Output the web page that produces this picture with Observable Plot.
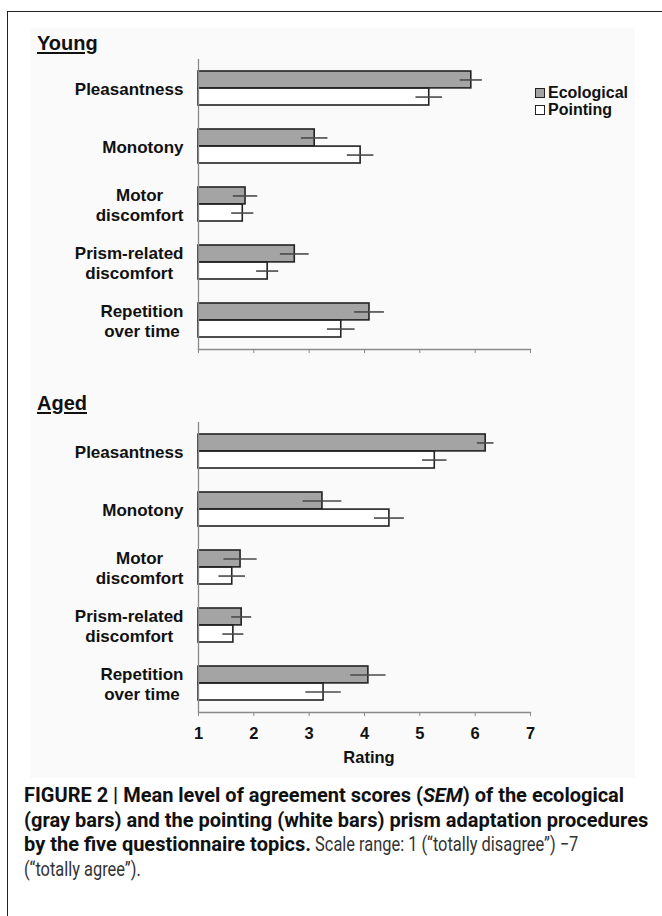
<!DOCTYPE html>
<html>
<head>
<meta charset="utf-8">
<script src="https://cdn.jsdelivr.net/npm/d3@7"></script>
<script src="https://cdn.jsdelivr.net/npm/@observablehq/plot@0.6"></script>
<style>
  html, body { margin: 0; padding: 0; background: #fff; }
  body { width: 662px; height: 916px; overflow: hidden; position: relative; font-family: "Liberation Sans", Arial, sans-serif; color: #111; }
  #frame { position: absolute; left: 7px; top: 11px; width: 720px; height: 1000px; border: 1.5px solid #222; box-sizing: border-box; }
  #panelbg { position: absolute; left: 30px; top: 28px; width: 605px; height: 750px; background: #fafafa; }
  .title { position: absolute; left: 37px; font-weight: bold; font-size: 20px; line-height: 1; text-decoration: underline; text-decoration-thickness: 2px; text-underline-offset: 2px; color: #111; }
  .chart { position: absolute; left: 0; }
  .chart svg { overflow: visible; }
  #legend { position: absolute; left: 535px; top: 84px; font-weight: bold; font-size: 16px; line-height: 17px; }
  #legend div { white-space: nowrap; }
  .sw { display: inline-block; width: 8px; height: 8px; border: 1.4px solid #222; margin-right: 3px; vertical-align: 0px; }
  #rating { position: absolute; left: 319px; width: 100px; text-align: center; top: 749px; font-weight: bold; font-size: 16.5px; line-height: 1; }
  #caption { position: absolute; left: 24px; top: 783px; font-family: Roboto, "Liberation Sans", sans-serif; font-size: 20px; line-height: 24.5px; white-space: nowrap; color: #111; }
  #caption b { font-weight: bold; }
  #caption .reg { font-weight: normal; color: #333; display: inline-block; transform: scaleX(0.82); transform-origin: left center; }
</style>
</head>
<body>
<div id="frame"></div>
<div id="panelbg"></div>
<div class="title" id="t1" style="top:33px"></div>
<div class="title" id="t2" style="top:393px"></div>
<div class="chart" id="c1" style="top:50px"></div>
<div class="chart" id="c2" style="top:413px"></div>
<div id="legend"></div>
<div id="rating">Rating</div>
<div id="caption"></div>
<script>
// ---------- data ----------
const topics = ["Pleasantness", "Monotony", "Motor\ndiscomfort", "Prism-related\ndiscomfort", "Repetition\nover time"];
const seriesNames = ["Ecological", "Pointing"];
const xTicks = [1, 2, 3, 4, 5, 6, 7];

const youngEco      = [5.93, 3.10, 1.85, 2.74, 4.09];
const youngEcoSem   = [0.20, 0.24, 0.22, 0.26, 0.27];
const youngPoint    = [5.17, 3.93, 1.80, 2.25, 3.58];
const youngPointSem = [0.24, 0.24, 0.20, 0.20, 0.25];

const agedEco       = [6.19, 3.24, 1.76, 1.78, 4.07];
const agedEcoSem    = [0.15, 0.35, 0.30, 0.18, 0.32];
const agedPoint     = [5.27, 4.45, 1.61, 1.63, 3.26];
const agedPointSem  = [0.22, 0.27, 0.24, 0.19, 0.32];

const panelTitles = ["Young", "Aged"];
const captionBold1 = "FIGURE 2 | Mean level of agreement scores (";
const captionItalic = "SEM";
const captionBold2 = ") of the ecological";
const captionBold3 = "(gray bars) and the pointing (white bars) prism adaptation procedures";
const captionBold4 = "by the five questionnaire topics.";
const captionReg1 = "\u00A0Scale range: 1 (\u201Ctotally disagree\u201D) \u22127";
const captionReg2 = "(\u201Ctotally agree\u201D).";

// ---------- styles ----------
const GRAY = "#a4a4a4";
const EDGE = "#222";
const ERR = "#4a4a4a";
const AXIS = "#8a8a8a";

function panel(eco, ecoSem, point, pointSem, showLabels) {
  const rows = topics.map((t, i) => ({topic: t, eco: eco[i], ecoSem: ecoSem[i], point: point[i], pointSem: pointSem[i]}));
  const pad = 0.41;
  const bandRange = 290;
  const step = bandRange / topics.length;
  const bw = step * (1 - pad);
  const marginBottom = showLabels ? 60 : 10;
  return Plot.plot({
    width: 662,
    height: 9 + bandRange + marginBottom,
    marginLeft: 198, marginRight: 132, marginTop: 9, marginBottom,
    style: {background: "transparent", fontFamily: "'Liberation Sans', Arial, sans-serif", color: "#111", overflow: "visible"},
    x: {domain: [1, 7]},
    y: {domain: topics, paddingInner: pad, paddingOuter: pad / 2, label: null},
    marks: [
      Plot.barX(rows, {y: "topic", x1: 1, x2: "eco", fill: GRAY, stroke: EDGE, strokeWidth: 1.6, insetBottom: bw / 2}),
      Plot.barX(rows, {y: "topic", x1: 1, x2: "point", fill: "#fff", stroke: EDGE, strokeWidth: 1.6, insetTop: bw / 2}),
      Plot.ruleY(rows, {y: "topic", x1: d => d.eco - d.ecoSem, x2: d => d.eco + d.ecoSem, dy: -bw / 4, stroke: ERR, strokeWidth: 1.6}),
      Plot.ruleY(rows, {y: "topic", x1: d => d.point - d.pointSem, x2: d => d.point + d.pointSem, dy: bw / 4, stroke: ERR, strokeWidth: 1.6}),
      Plot.ruleX([1], {stroke: AXIS, strokeWidth: 1.3}),
      Plot.frame({anchor: "bottom", stroke: AXIS, strokeWidth: 1.3}),
      Plot.axisY({tickSize: 0, tickPadding: 15, fontSize: 17, fontWeight: "bold", label: null, lineHeight: 1.18}),
      Plot.axisX({ticks: xTicks, tickSize: 4, stroke: AXIS, tickPadding: 11, fontSize: 16.5, fontWeight: "bold", label: null,
                  tickFormat: showLabels ? d3.format("d") : () => ""})
    ]
  });
}

function centerMultiline(svg) {
  svg.querySelectorAll('g[aria-label="y-axis tick label"] text').forEach(t => {
    const spans = t.querySelectorAll("tspan");
    if (spans.length < 2) return;
    const w = Math.max(...[...spans].map(s => s.getComputedTextLength()));
    t.setAttribute("text-anchor", "middle");
    spans.forEach(s => s.setAttribute("x", -w / 2));
  });
}

const s1 = panel(youngEco, youngEcoSem, youngPoint, youngPointSem, false);
const s2 = panel(agedEco, agedEcoSem, agedPoint, agedPointSem, true);
document.getElementById("c1").appendChild(s1);
document.getElementById("c2").appendChild(s2);
centerMultiline(s1);
centerMultiline(s2);

document.getElementById("t1").textContent = panelTitles[0];
document.getElementById("t2").textContent = panelTitles[1];

// legend
const lg = document.getElementById("legend");
const swFill = [GRAY, "#fff"];
seriesNames.forEach((n, i) => {
  const row = document.createElement("div");
  const sw = document.createElement("span");
  sw.className = "sw";
  sw.style.background = swFill[i];
  row.appendChild(sw);
  row.appendChild(document.createTextNode(n));
  lg.appendChild(row);
});

// caption
const cap = document.getElementById("caption");
const l1 = document.createElement("div");
const b1 = document.createElement("b");
b1.append(captionBold1);
const it = document.createElement("i"); it.textContent = captionItalic; b1.append(it);
b1.append(captionBold2);
l1.appendChild(b1);
const l2 = document.createElement("div");
const b2 = document.createElement("b"); b2.textContent = captionBold3; l2.appendChild(b2);
const l3 = document.createElement("div");
const b3 = document.createElement("b"); b3.textContent = captionBold4; l3.appendChild(b3);
const r3 = document.createElement("span"); r3.className = "reg"; r3.textContent = captionReg1; l3.appendChild(r3);
const l4 = document.createElement("div");
const r4 = document.createElement("span"); r4.className = "reg"; r4.textContent = captionReg2; l4.appendChild(r4);
cap.append(l1, l2, l3, l4);
</script>
</body>
</html>
